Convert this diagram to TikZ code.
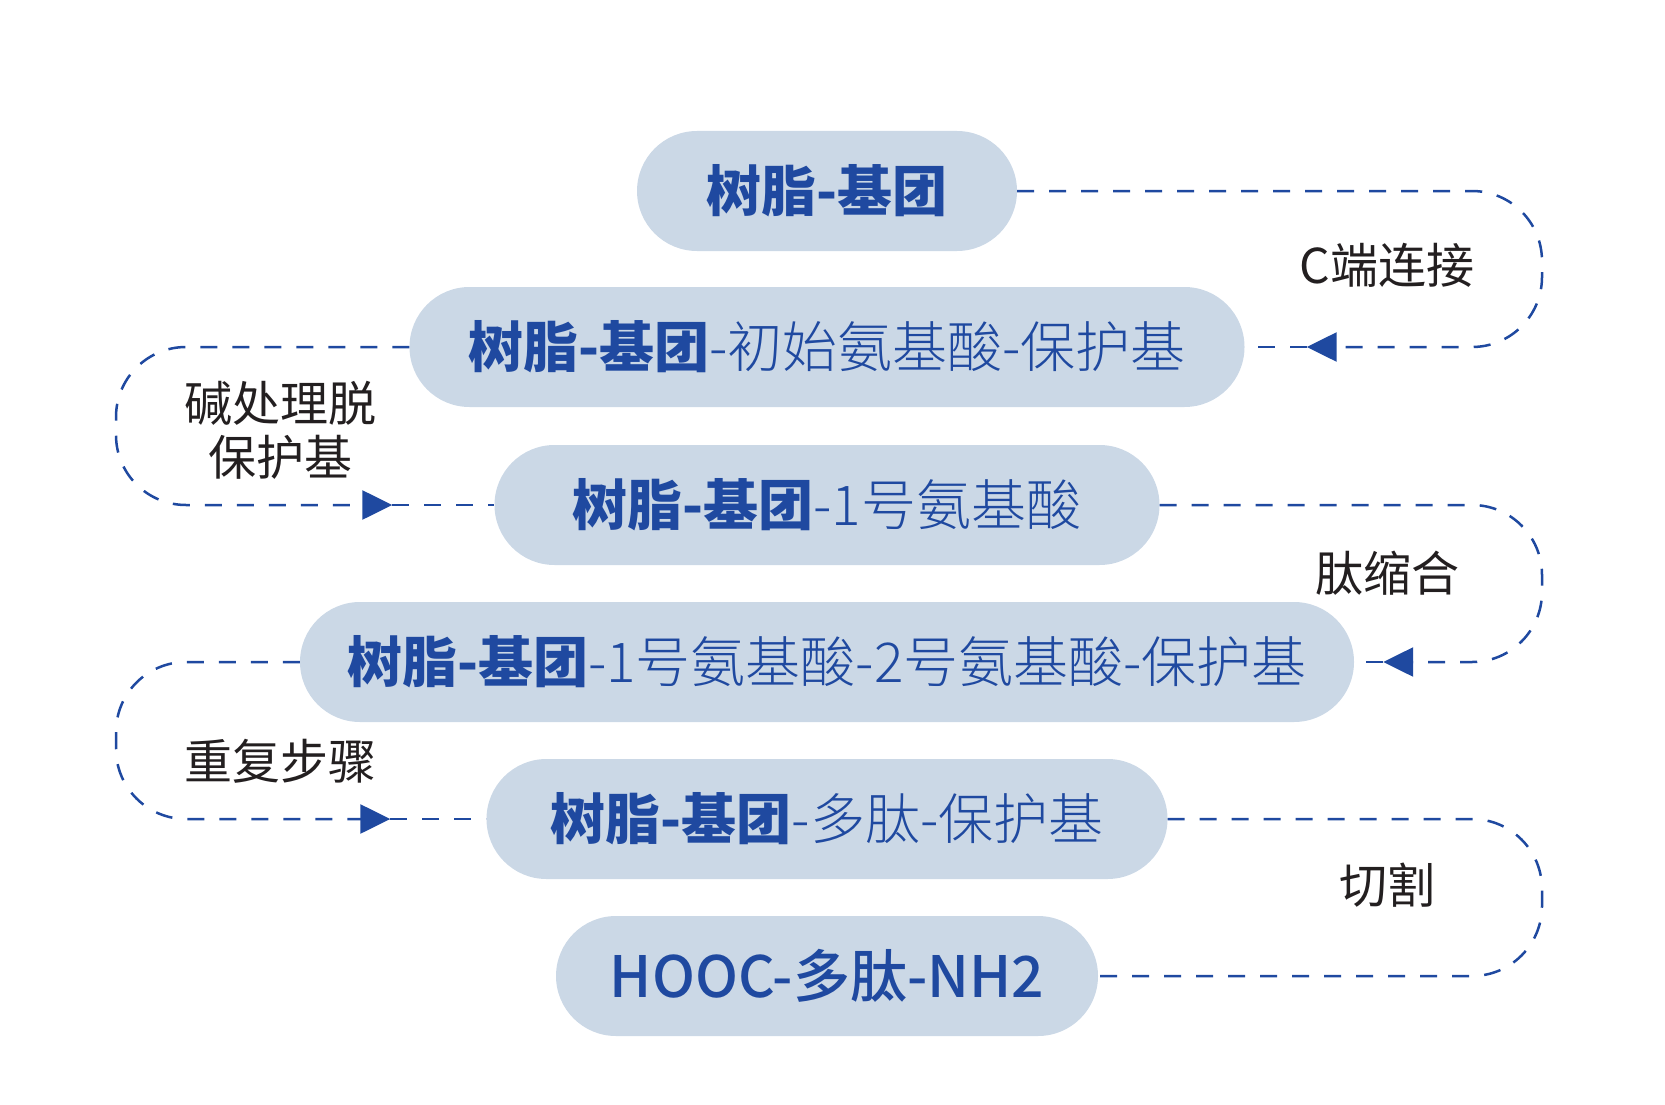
\documentclass[tikz,border=0pt]{standalone}
\usepackage{fontspec}
\setmainfont{Noto Sans CJK SC}
\newfontfamily\thincjk{Noto Sans CJK SC Light}
\newfontfamily\midcjk{Noto Sans CJK SC Medium}
\usetikzlibrary{arrows.meta,positioning,calc}
\definecolor{pillblue}{HTML}{CBD8E6}
\definecolor{inkblue}{HTML}{1F49A0}
\definecolor{labelgray}{HTML}{231F20}
\tikzset{
  pill/.style={rectangle,rounded corners=60pt,fill=pillblue,minimum height=120pt,inner sep=0pt,text=inkblue,font=\fontsize{55}{62}\selectfont\thincjk},
  steplabel/.style={text=labelgray,align=center,inner sep=0pt,font=\fontsize{48}{54}\selectfont},
  loopline/.style={draw=inkblue,line width=2.5pt,dash pattern=on 17pt off 15pt,rounded corners=70pt},
  arrowend/.style={-{Triangle[length=30pt,width=29pt]}}
}
\newcommand{\resin}{{\bfseries\rmfamily 树脂-基团}}

\begin{document}
\begin{tikzpicture}[x=1pt,y=-1pt]
\useasboundingbox (0,0) rectangle (1665,1105);
\node[pill,minimum width=380pt] (p1) at (827,191) {\resin};
\node[pill,minimum width=835pt] (p2) at (827,347) {\resin-初始氨基酸-保护基};
\node[pill,minimum width=665pt] (p3) at (827,505) {\resin-1号氨基酸};
\node[pill,minimum width=1054pt] (p4) at (827,662) {\resin-1号氨基酸-2号氨基酸-保护基};
\node[pill,minimum width=681pt] (p5) at (827,819) {\resin-多肽-保护基};
\node[pill,minimum width=542pt] (p6) at (827,976) {{\fontsize{57}{62}\selectfont\midcjk HOOC-多肽-NH2}};

\node[steplabel] (l1) at (1387,265) {C端连接};
\node[steplabel] (l2) at (280,430) {碱处理脱\\保护基};
\node[steplabel] (l3) at (1387,573) {肽缩合};
\node[steplabel] (l4) at (280,761) {重复步骤};
\node[steplabel] (l5) at (1387,885) {切割};

\coordinate (rx) at (1542,0);
\coordinate (lx) at (116,0);
\coordinate (t1) at ([xshift=62pt]p2.east);
\coordinate (t2) at ([xshift=-102pt]p3.west);
\coordinate (t3) at ([xshift=29pt]p4.east);
\coordinate (t4) at ([xshift=-96pt]p5.west);

\draw[loopline,arrowend] (p1.east) -- (p1.east -| rx) -- (p2.east -| rx) -- (t1);
\draw[loopline] (t1) -- (p2.east);
\draw[loopline,arrowend] (p2.west) -- (p2.west -| lx) -- (p3.west -| lx) -- (t2);
\draw[loopline] (t2) -- (p3.west);
\draw[loopline,arrowend] (p3.east) -- (p3.east -| rx) -- (p4.east -| rx) -- (t3);
\draw[loopline] (t3) -- (p4.east);
\draw[loopline,arrowend] (p4.west) -- (p4.west -| lx) -- (p5.west -| lx) -- (t4);
\draw[loopline] (t4) -- (p5.west);
\draw[loopline] (p5.east) -- (p5.east -| rx) -- (p6.east -| rx) -- (p6.east);
\end{tikzpicture}
\end{document}
